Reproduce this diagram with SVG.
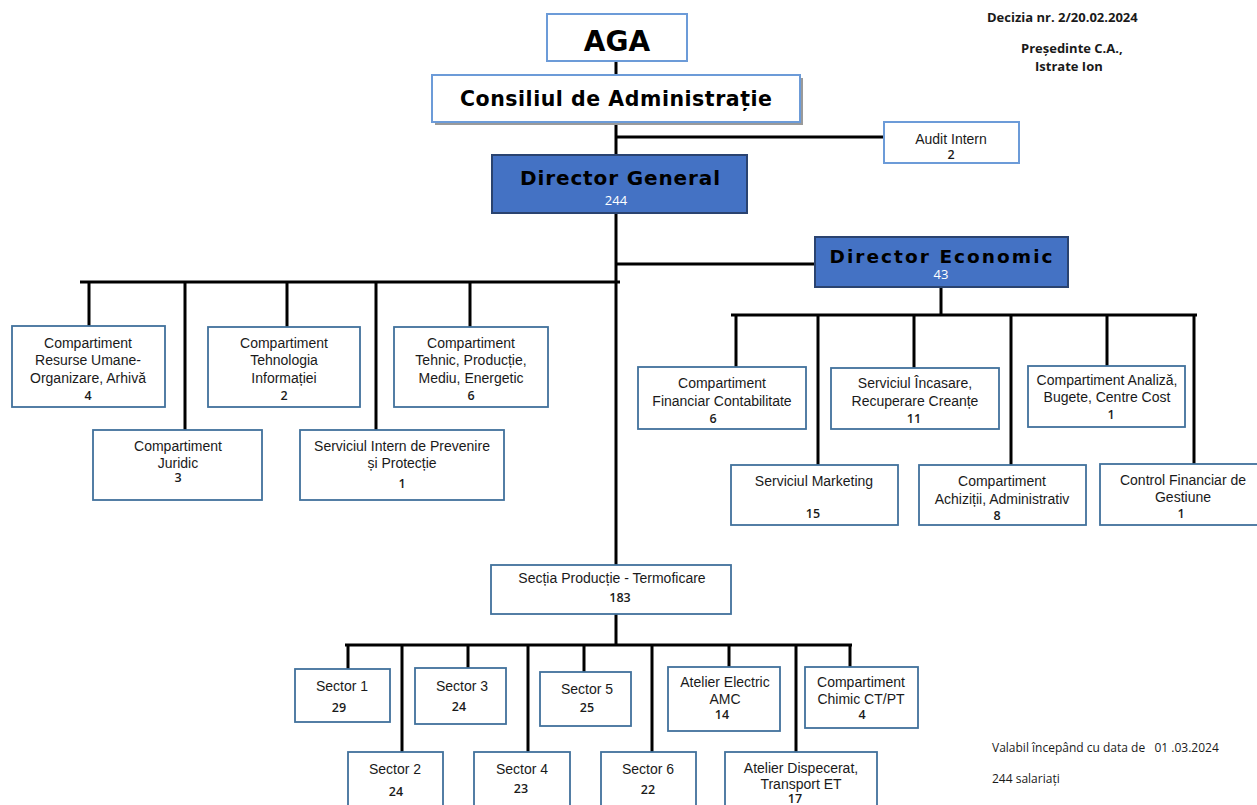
<svg xmlns="http://www.w3.org/2000/svg" width="1257" height="805" viewBox="0 0 1257 805">
<style>
.bx{fill:#fff;stroke:#41719c;stroke-width:1.8}
.lb{fill:#fff;stroke:#6c9bd8;stroke-width:2}
.bl{fill:#4472c4;stroke:#2a4370;stroke-width:2}
.t{font-family:"Liberation Sans",Arial,sans-serif;font-size:14px;fill:#1a1a1a;text-anchor:middle}
.n{font-family:"Open Sans","Liberation Sans",sans-serif;font-size:12.5px;font-weight:600;fill:#1a1a1a;text-anchor:middle}
.h{font-family:"DejaVu Sans","Liberation Sans",sans-serif;font-weight:bold;fill:#000;text-anchor:middle}
.w{font-family:"Open Sans","Liberation Sans",sans-serif;font-size:13px;fill:#fff;text-anchor:middle}
.c{font-family:"Open Sans","Liberation Sans",sans-serif;font-size:12px;fill:#1a1a1a}
.cb{font-family:"Open Sans","Liberation Sans",sans-serif;font-size:13px;font-weight:bold;fill:#1a1a1a}
.ln{stroke:#000;stroke-width:3;fill:none}
</style>
<rect width="1257" height="805" fill="#fff"/>
<g id="connectors">
<path class="ln" d="M616 61V75M616 122V155M616 137H884M616 213V565M616 264H815M80 282H620M89 282V326M185 282V430M287 282V327M376 282V430M470 282V327M941 287V315M731 315H1197M736 315V367M818 315V465M914 315V368M1011 315V465M1107 315V366M1194 315V464M616 614V645M345 645H852M348 645V669M402 645V752M468 645V668M528 645V752M584 645V672M652 645V752M729 645V667M796 645V752M850 645V667"/>
</g>
<g id="aga"><rect class="lb" x="547" y="14" width="140" height="47"/><text class="h" x="617" y="51" font-size="28">AGA</text></g>
<g id="consiliul"><rect x="435" y="78" width="368" height="47" fill="#9a9a9a"/><rect class="lb" x="432" y="75" width="368" height="47"/><text class="h" x="616" y="106" font-size="20.5" textLength="312" lengthAdjust="spacing">Consiliul de Administrație</text></g>
<g id="audit"><rect class="lb" x="884" y="122" width="135" height="41"/><text class="t" x="951" y="144" font-size="15.5">Audit Intern</text><text class="n" x="951" y="159" font-size="11.5">2</text></g>
<g id="dg"><rect class="bl" x="492" y="155" width="255" height="58"/><text class="h" x="620" y="185" font-size="20" textLength="200" lengthAdjust="spacing">Director General</text><text class="w" x="616" y="205">244</text></g>
<g id="de"><rect class="bl" x="815" y="237" width="253" height="50"/><text class="h" x="941" y="263" font-size="18.5" textLength="223" lengthAdjust="spacing">Director Economic</text><text class="w" x="941" y="279">43</text></g>
<g id="resurse"><rect class="bx" x="12" y="326" width="153" height="81"/><text class="t" x="88" y="348">Compartiment</text><text class="t" x="88" y="365">Resurse Umane-</text><text class="t" x="88" y="383">Organizare, Arhivă</text><text class="n" x="88" y="400">4</text></g>
<g id="it"><rect class="bx" x="208" y="327" width="152" height="80"/><text class="t" x="284" y="348">Compartiment</text><text class="t" x="284" y="365">Tehnologia</text><text class="t" x="284" y="383">Informației</text><text class="n" x="284" y="400">2</text></g>
<g id="tehnic"><rect class="bx" x="394" y="327" width="154" height="80"/><text class="t" x="471" y="348">Compartiment</text><text class="t" x="471" y="365">Tehnic, Producție,</text><text class="t" x="471" y="383">Mediu, Energetic</text><text class="n" x="471" y="400">6</text></g>
<g id="juridic"><rect class="bx" x="93" y="430" width="169" height="70"/><text class="t" x="178" y="451">Compartiment</text><text class="t" x="178" y="468">Juridic</text><text class="n" x="178" y="482">3</text></g>
<g id="sipp"><rect class="bx" x="300" y="430" width="204" height="70"/><text class="t" x="402" y="451">Serviciul Intern de Prevenire</text><text class="t" x="402" y="468">și Protecție</text><text class="n" x="402" y="488">1</text></g>
<g id="fin"><rect class="bx" x="638" y="367" width="168" height="62"/><text class="t" x="722" y="388">Compartiment</text><text class="t" x="722" y="406">Financiar Contabilitate</text><text class="n" x="713" y="423">6</text></g>
<g id="incasare"><rect class="bx" x="831" y="368" width="168" height="61"/><text class="t" x="915" y="388">Serviciul Încasare,</text><text class="t" x="915" y="406">Recuperare Creanțe</text><text class="n" x="914" y="423">11</text></g>
<g id="analiza"><rect class="bx" x="1028" y="366" width="157" height="61"/><text class="t" x="1107" y="385" font-size="13">Compartiment Analiză,</text><text class="t" x="1107" y="402" font-size="13">Bugete, Centre Cost</text><text class="n" x="1111" y="419">1</text></g>
<g id="marketing"><rect class="bx" x="731" y="465" width="167" height="60"/><text class="t" x="814" y="486">Serviciul Marketing</text><text class="n" x="813" y="518">15</text></g>
<g id="achizitii"><rect class="bx" x="919" y="465" width="167" height="60"/><text class="t" x="1002" y="486">Compartiment</text><text class="t" x="1002" y="504">Achiziții, Administrativ</text><text class="n" x="997" y="520">8</text></g>
<g id="control"><rect class="bx" x="1100" y="464" width="160" height="61"/><text class="t" x="1183" y="485">Control Financiar de</text><text class="t" x="1183" y="502">Gestiune</text><text class="n" x="1181" y="518">1</text></g>
<g id="sectia"><rect class="bx" x="491" y="565" width="240" height="49"/><text class="t" x="612" y="583">Secția Producție - Termoficare</text><text class="n" x="620" y="602">183</text></g>
<g id="s1"><rect class="bx" x="295" y="669" width="95" height="53"/><text class="t" x="342" y="691">Sector 1</text><text class="n" x="339" y="712">29</text></g>
<g id="s3"><rect class="bx" x="415" y="668" width="91" height="56"/><text class="t" x="462" y="691">Sector 3</text><text class="n" x="459" y="711">24</text></g>
<g id="s5"><rect class="bx" x="540" y="672" width="91" height="54"/><text class="t" x="587" y="694">Sector 5</text><text class="n" x="587" y="712">25</text></g>
<g id="electric"><rect class="bx" x="668" y="667" width="112" height="64"/><text class="t" x="725" y="687">Atelier Electric</text><text class="t" x="725" y="704">AMC</text><text class="n" x="722" y="719">14</text></g>
<g id="chimic"><rect class="bx" x="805" y="667" width="113" height="61"/><text class="t" x="861" y="687">Compartiment</text><text class="t" x="861" y="704">Chimic CT/PT</text><text class="n" x="862" y="719">4</text></g>
<g id="s2"><rect class="bx" x="348" y="752" width="95" height="56"/><text class="t" x="395" y="774">Sector 2</text><text class="n" x="396" y="796">24</text></g>
<g id="s4"><rect class="bx" x="474" y="752" width="96" height="56"/><text class="t" x="522" y="774">Sector 4</text><text class="n" x="521" y="793">23</text></g>
<g id="s6"><rect class="bx" x="601" y="752" width="95" height="56"/><text class="t" x="648" y="774">Sector 6</text><text class="n" x="648" y="794">22</text></g>
<g id="dispecerat"><rect class="bx" x="725" y="752" width="152" height="56"/><text class="t" x="801" y="773">Atelier Dispecerat,</text><text class="t" x="801" y="789">Transport ET</text><text class="n" x="795" y="803">17</text></g>
<g id="notes">
<text class="cb" x="987" y="22">Decizia nr. 2/20.02.2024</text>
<text class="cb" x="1021" y="53">Președinte C.A.,</text>
<text class="cb" x="1035" y="71">Istrate Ion</text>
<text class="c" x="992" y="752" xml:space="preserve">Valabil începând cu data de   01 .03.2024</text>
<text class="c" x="992" y="783">244 salariați</text>
</g>
</svg>
